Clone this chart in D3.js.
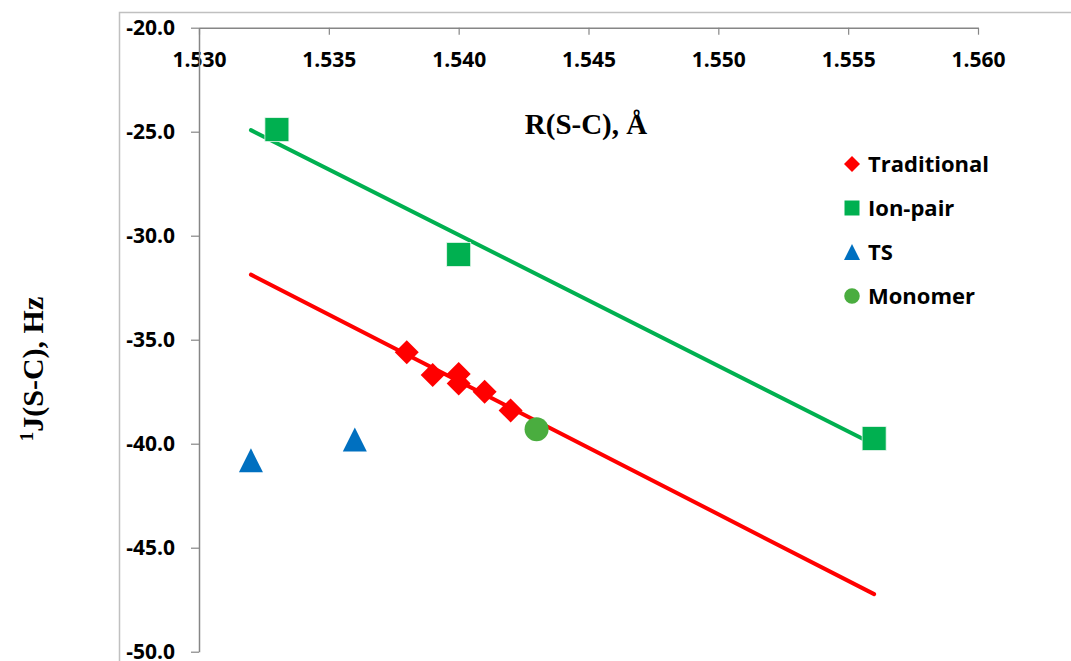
<!DOCTYPE html>
<html>
<head>
<meta charset="utf-8">
<script src="https://cdn.jsdelivr.net/npm/d3@7"></script>
<style>
  body { margin: 0; background: #fff; }
</style>
</head>
<body>
<div id="chart"></div>
<script>
// data
const traditional = [
  {x: 1.538, y: -35.6}, {x: 1.539, y: -36.7}, {x: 1.540, y: -36.65},
  {x: 1.540, y: -37.1}, {x: 1.541, y: -37.5}, {x: 1.542, y: -38.4}
];
const ionPair = [{x: 1.533, y: -24.9}, {x: 1.540, y: -30.9}, {x: 1.556, y: -39.75}];
const ts = [{x: 1.532, y: -40.8}, {x: 1.536, y: -39.8}];
const monomer = [{x: 1.543, y: -39.3}];
const trendRange = [1.532, 1.556];
const xTicks = [1.530, 1.535, 1.540, 1.545, 1.550, 1.555, 1.560];
const yTicks = [-20, -25, -30, -35, -40, -45, -50];
const legendNames = ['Traditional', 'Ion-pair', 'TS', 'Monomer'];

const width = 1071, height = 661;
const red = '#ff0000', green = '#00b050', blue = '#0070c0', lgreen = '#4aad3f';
const axisGray = '#868686';

const svg = d3.select('#chart').append('svg')
    .attr('width', width)
    .attr('height', height);

// outer chart-area border
svg.append('path')
    .attr('d', `M119.5,${height} V12.5 H${width}`)
    .attr('fill', 'none')
    .attr('stroke', '#c0c0c0')
    .attr('stroke-width', 1.5);

const x = d3.scaleLinear().domain([1.530, 1.560]).range([199, 978]);
const y = d3.scaleLinear().domain([-50, -20]).range([651.7, 27.7]);

// plain hyphen instead of unicode minus
const fmt1 = d => d3.format('.1f')(d).replace('\u2212', '-');

// x axis at the top, ticks pointing down
const gx = svg.append('g')
    .attr('transform', `translate(0,${y(-20)})`)
    .call(d3.axisBottom(x).tickValues(xTicks).tickFormat(d3.format('.3f'))
      .tickSizeInner(7).tickSizeOuter(0).tickPadding(17));
gx.select('.domain').attr('stroke', axisGray).attr('stroke-width', 1.5);
gx.selectAll('.tick line').attr('stroke', axisGray).attr('stroke-width', 1.2);
gx.selectAll('.tick text')
    .attr('font-family', 'Open Sans, sans-serif')
    .attr('font-weight', 'bold')
    .attr('font-size', 21)
    .attr('fill', '#000');

// y axis
const gy = svg.append('g')
    .attr('transform', `translate(${x(1.530)},0)`)
    .call(d3.axisLeft(y).tickValues(yTicks).tickFormat(fmt1)
      .tickSizeInner(8).tickSizeOuter(0).tickPadding(16));
gy.select('.domain').attr('stroke', axisGray).attr('stroke-width', 1.5);
gy.selectAll('.tick line').attr('stroke', axisGray).attr('stroke-width', 1.2);
gy.selectAll('.tick text')
    .attr('font-family', 'Open Sans, sans-serif')
    .attr('font-weight', 'bold')
    .attr('font-size', 21)
    .attr('fill', '#000');

// trend lines (least squares fit of each series)
function fit(data) {
  const mx = d3.mean(data, d => d.x), my = d3.mean(data, d => d.y);
  const sxy = d3.sum(data, d => (d.x - mx) * (d.y - my));
  const sxx = d3.sum(data, d => (d.x - mx) * (d.x - mx));
  const b = sxy / sxx;
  return xv => my + b * (xv - mx);
}
const line = d3.line().x(d => x(d[0])).y(d => y(d[1]));
[[ionPair, green], [traditional, red]].forEach(([data, col]) => {
  const f = fit(data);
  svg.append('path')
      .attr('d', line(trendRange.map(v => [v, f(v)])))
      .attr('fill', 'none')
      .attr('stroke', col)
      .attr('stroke-width', 4)
      .attr('stroke-linecap', 'round');
});

// markers
function diamond(s) {
  return `M0,${-s}L${s},0L0,${s}L${-s},0Z`;
}
function triangle(s) {
  return `M0,${-s}L${s},${s}L${-s},${s}Z`;
}

svg.append('g').selectAll('path')
  .data(traditional)
  .join('path')
    .attr('transform', d => `translate(${x(d.x)},${y(d.y)})`)
    .attr('d', diamond(12))
    .attr('fill', red);

svg.append('g').selectAll('rect')
  .data(ionPair)
  .join('rect')
    .attr('x', d => x(d.x) - 12)
    .attr('y', d => y(d.y) - 12)
    .attr('width', 24)
    .attr('height', 24)
    .attr('fill', green)
    .attr('stroke', '#e8f6ee')
    .attr('stroke-width', 0.8);

svg.append('g').selectAll('path')
  .data(ts)
  .join('path')
    .attr('transform', d => `translate(${x(d.x)},${y(d.y)})`)
    .attr('d', triangle(12))
    .attr('fill', blue);

svg.append('g').selectAll('circle')
  .data(monomer)
  .join('circle')
    .attr('cx', d => x(d.x))
    .attr('cy', d => y(d.y))
    .attr('r', 12)
    .attr('fill', lgreen);

// axis titles
svg.append('text')
    .attr('x', 586)
    .attr('y', 134)
    .attr('text-anchor', 'middle')
    .attr('font-family', 'Liberation Serif, Times New Roman, serif')
    .attr('font-weight', 'bold')
    .attr('font-size', 29)
    .text('R(S-C), Å');

const yt = svg.append('text')
    .attr('transform', 'translate(43,369) rotate(-90)')
    .attr('text-anchor', 'middle')
    .attr('font-family', 'Liberation Serif, Times New Roman, serif')
    .attr('font-weight', 'bold')
    .attr('font-size', 30);
yt.append('tspan').attr('font-size', 19).attr('dy', -10).text('1');
yt.append('tspan').attr('dy', 10).text('J(S-C), Hz');

// legend
const colors = [red, green, blue, lgreen];
const lg = svg.append('g')
    .attr('transform', 'translate(852,164)')
    .selectAll('g')
    .data(legendNames)
    .join('g')
      .attr('transform', (d, i) => `translate(0,${i * 44})`);

lg.append('path')
    .attr('d', (d, i) => {
      if (i === 0) return diamond(8);
      if (i === 1) return 'M-7.5,-7.5H7.5V7.5H-7.5Z';
      if (i === 2) return triangle(8);
      return d3.symbol().type(d3.symbolCircle).size(190)();
    })
    .attr('fill', (d, i) => colors[i]);

lg.append('text')
    .attr('x', 16)
    .attr('dy', '0.36em')
    .attr('font-family', 'Open Sans, sans-serif')
    .attr('font-weight', 'bold')
    .attr('font-size', 22)
    .text(d => d);
</script>
</body>
</html>
